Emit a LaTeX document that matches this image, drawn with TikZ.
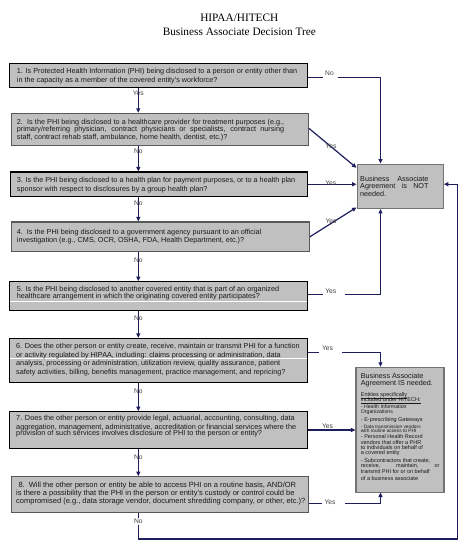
\documentclass[tikz,border=0pt]{standalone}
\usepackage{fontspec}
\setmainfont{Liberation Serif}
\newfontfamily\arialf{Liberation Sans}
\usetikzlibrary{arrows.meta}
\definecolor{boxgray}{HTML}{C0C0C0}
\definecolor{lineblue}{RGB}{30,30,95}
\tikzset{
  qbox/.style={draw=black, fill=boxgray, line width=1.1pt, inner sep=0pt},
  gbox/.style={qbox, draw=black!65},
  qtext/.style={anchor=north west, inner sep=0pt, align=left, text=black!90},
  conn/.style={draw=lineblue, line width=1.2pt},
  arr/.style={-{Triangle[length=4.5pt,width=4pt]}},
  lbl/.style={font=\arialf\fontsize{6.7}{6.7}\selectfont, text=black!75, inner sep=0pt},
  isl/.style={anchor=base west, inner sep=0pt, text=black!90},
  artifact/.style={draw=white, line width=0.8pt}
}
\begin{document}
\begin{tikzpicture}[x=1pt, y=-1pt]
\useasboundingbox (0,0) rectangle (465,546);
\fill[white] (0,0) rectangle (465,546);

% title
\node[font=\fontsize{11.3}{13}\selectfont] (title1) at (239.3,18.3) {HIPAA/HITECH};
\node[font=\fontsize{11.3}{13}\selectfont] (title2) at (239.3,31.9) {Business Associate Decision Tree};

% question boxes
\node[qbox, minimum width=298pt, minimum height=24pt] (q1) at (158.3,75.3) {};
\node[gbox, minimum width=296.6pt, minimum height=32pt] (q2) at (160,129.3) {};
\node[qbox, minimum width=297.3pt, minimum height=24.7pt] (q3) at (158.7,184.3) {};
\node[gbox, minimum width=297.6pt, minimum height=29.7pt] (q4) at (160.5,236.8) {};
\node[qbox, minimum width=297.8pt, minimum height=28.6pt] (q5) at (158.4,296) {};
\node[qbox, minimum width=297.8pt, minimum height=43.8pt] (q6) at (158.4,360.4) {};
\node[qbox, minimum width=297.8pt, minimum height=36.6pt] (q7) at (158.4,430) {};
\node[gbox, minimum width=296.6pt, minimum height=35.8pt] (q8) at (160,494.6) {};

% white streaks inside boxes 5 and 6
\draw[artifact] ([xshift=0.7pt,yshift=-5.7pt]q5.west) -- ([xshift=-0.7pt,yshift=-5.7pt]q5.east);
\draw[artifact] ([xshift=0.7pt,yshift=1.7pt]q6.west) -- ([xshift=-0.7pt,yshift=1.7pt]q6.east);

% result boxes
\node[gbox, draw=black!55, minimum width=86.3pt, minimum height=44.3pt] (notbox) at (400.2,186.2) {};
\node[gbox, draw=black!55, minimum width=88pt, minimum height=124.7pt] (isbox) at (400,429.7) {};

% question texts
\node[qtext, font=\arialf\fontsize{7.25}{9}\selectfont] (t1) at (16.7,68.3)
 {1. Is Protected Health Information (PHI) being disclosed to a person or entity other than\\
  in the capacity as a member of the covered entity’s workforce?};
\node[qtext, font=\arialf\fontsize{7.25}{7.5}\selectfont] (t2) at (16.7,119)
 {\makebox[267.3pt][s]{2.\ \ Is the PHI being disclosed to a healthcare provider for treatment purposes (e.g.,}\\
  \makebox[267.3pt][s]{primary/referring physician, contract physicians or specialists, contract nursing}\\
  staff, contract rehab staff, ambulance, home health, dentist, etc.)?};
\node[qtext, font=\arialf\fontsize{7.25}{8.7}\selectfont] (t3) at (16.7,177.3)
 {3. Is the PHI being disclosed to a health plan for payment purposes, or to a health plan\\
  sponsor with respect to disclosures by a group health plan?};
\node[qtext, font=\arialf\fontsize{7.25}{8.3}\selectfont] (t4) at (16.7,228.6)
 {4.\ \ Is the PHI being disclosed to a government agency pursuant to an official\\
  investigation (e.g., CMS, OCR, OSHA, FDA, Health Department, etc.)?};
\node[qtext, font=\arialf\fontsize{7.25}{7.7}\selectfont] (t5) at (16.7,285.6)
 {5. Is the PHI being disclosed to another covered entity that is part of an organized\\
  healthcare arrangement in which the originating covered entity participates?};
\node[qtext, font=\arialf\fontsize{7.25}{8.7}\selectfont] (t6) at (16,343)
 {6. Does the other person or entity create, receive, maintain or transmit PHI for a function\\
  or activity regulated by HIPAA, including: claims processing or administration, data\\
  analysis, processing or administration, utilization review, quality assurance, patient\\
  safety activities, billing, benefits management, practice management, and repricing?};
\node[qtext, font=\arialf\fontsize{7.3}{8.4}\selectfont] (t7) at (16,415.3)
 {7. Does the other person or entity provide legal, actuarial, accounting, consulting, data\\
  aggregation, management, administrative, accreditation or financial services where the\\[-2.3pt]
  provision of such services involves disclosure of PHI to the person or entity?};
\node[qtext, font=\arialf\fontsize{7.5}{7.85}\selectfont] (t8) at (16,482.2)
 {\hspace*{2.3pt}8.\ \ Will the other person or entity be able to access PHI on a routine basis, AND/OR\\
  is there a possibility that the PHI in the person or entity’s custody or control could be\\
  compromised (e.g., data storage vendor, document shredding company, or other, etc.)?};

% NOT needed text
\node[qtext, font=\arialf\fontsize{7.2}{7.5}\selectfont] (tnot) at (360,175.6)
 {\makebox[68.3pt][s]{Business Associate}\\
  \makebox[68.3pt][s]{Agreement is NOT}\\
  needed.};

% IS needed text
\node[isl, font=\arialf\fontsize{7.2}{7.2}\selectfont] (is1) at (360.7,378.4) {Business Associate};
\node[isl, font=\arialf\fontsize{7.2}{7.2}\selectfont] (is2) at (360.7,385.3) {Agreement IS needed.};
\node[isl, font=\arialf\fontsize{5.5}{5.5}\selectfont] (is3) at (360.7,396) {\underline{Entities specifically}};
\node[isl, font=\arialf\fontsize{5.5}{5.5}\selectfont] (is4) at (360.7,401.3) {\underline{included under HITECH:}};
\node[isl, font=\arialf\fontsize{5.2}{5.2}\selectfont] (is5) at (360.7,408.9) {- Health Information};
\node[isl, font=\arialf\fontsize{5.2}{5.2}\selectfont] (is6) at (360.7,413.4) {Organizations};
\node[isl, font=\arialf\fontsize{5.5}{5.5}\selectfont] (is7) at (360.7,421.3) {- E-prescribing Gateways};
\node[isl, font=\arialf\fontsize{4.8}{4.8}\selectfont] (is8) at (360.7,428.5) {- Data transmission vendors};
\node[isl, font=\arialf\fontsize{4.8}{4.8}\selectfont] (is9) at (360.7,432.5) {with routine access to PHI};
\node[isl, font=\arialf\fontsize{5.5}{5.5}\selectfont] (is10) at (360.7,438.5) {- Personal Health Record};
\node[isl, font=\arialf\fontsize{5.5}{5.5}\selectfont] (is11) at (360.7,444) {vendors that offer a PHR};
\node[isl, font=\arialf\fontsize{5.5}{5.5}\selectfont] (is12) at (360.7,449) {to individuals on behalf of};
\node[isl, font=\arialf\fontsize{5.5}{5.5}\selectfont] (is13) at (360.7,454.5) {a covered entity};
\node[isl, font=\arialf\fontsize{5.5}{5.5}\selectfont] (is14) at (360.7,462.3) {- Subcontractors that create,};
\node[isl, font=\arialf\fontsize{5.5}{5.5}\selectfont] (is15) at (360.7,467.5) {\makebox[78.6pt][s]{receive, maintain, or}};
\node[isl, font=\arialf\fontsize{5.5}{5.5}\selectfont] (is16) at (360.7,473.3) {transmit PHI for or on behalf};
\node[isl, font=\arialf\fontsize{5.5}{5.5}\selectfont] (is17) at (360.7,480) {of a business associate};

% helper coordinates
\coordinate (sp) at (138.3,0);
\coordinate (nx) at (380.5,0);
\coordinate (g1a) at (322.7,77.3);
\coordinate (g1b) at (337.7,77.3);
\coordinate (g5a) at (322.7,294.7);
\coordinate (g5b) at (345,294.7);
\coordinate (g6a) at (319,352.3);
\coordinate (g6b) at (342.3,352.3);
\coordinate (g8a) at (321.7,503.5);
\coordinate (g8b) at (345,503.5);
\coordinate (rb1) at (138.3,539);
\coordinate (rb2) at (457.5,539);

% spine
\draw[conn,arr] (q1.south -| sp) -- (q2.north -| sp);
\draw[conn,arr] (q2.south -| sp) -- (q3.north -| sp);
\draw[conn,arr] (q3.south -| sp) -- (q4.north -| sp);
\draw[conn,arr] (q4.south -| sp) -- (q5.north -| sp);
\draw[conn,arr] (q5.south -| sp) -- (q6.north -| sp);
\draw[conn,arr] (q6.south -| sp) -- (q7.north -| sp);
\draw[conn,arr] (q7.south -| sp) -- (q8.north -| sp);
\draw[conn,arr] (q8.south -| sp) -- (rb1) -- (rb2) |- ([yshift=2pt]notbox.east);

% right-side connectors
\draw[conn] (q1.east |- g1a) -- (g1a);
\draw[conn,arr] (g1b) -| (notbox.north -| nx);
\draw[conn,arr] ([yshift=1pt]q2.east) -- ([yshift=-4.3pt]notbox.north west);
\draw[conn,arr] (q3.east) -- (notbox.west |- q3.east);
\draw[conn,arr] (q4.east) -- ([yshift=1.5pt]notbox.south west);
\draw[conn] (q5.east |- g5a) -- (g5a);
\draw[conn,arr] (g5b) -| (notbox.south -| nx);
\draw[conn] (q6.east |- g6a) -- (g6a);
\draw[conn,arr] (g6b) -| (isbox.north -| nx);
\draw[conn,arr] (q7.east) -- (isbox.west |- q7.east);
\draw[conn] (q8.east |- g8a) -- (g8a);
\draw[conn,arr] (g8b) -| (isbox.south -| nx);

% labels
\node[lbl] (l12) at (138.3,93.3) {Yes};
\node[lbl] (l23) at (138.3,151.7) {No};
\node[lbl] (l34) at (138.3,203) {No};
\node[lbl] (l45) at (138.3,260) {No};
\node[lbl] (l56) at (138.3,318.3) {No};
\node[lbl] (l67) at (138.3,391.7) {No};
\node[lbl] (l78) at (138.3,457) {No};
\node[lbl, fill=white, inner sep=1pt] (l8b) at (138.3,521.3) {No};
\node[lbl] (r1) at (329.5,73.7) {No};
\node[lbl] (r2) at (331,146.7) {Yes};
\node[lbl] (r3) at (330.8,183.7) {Yes};
\node[lbl] (r4) at (331,221.7) {Yes};
\node[lbl] (r5) at (330.8,291.7) {Yes};
\node[lbl] (r6) at (327.5,348.3) {Yes};
\node[lbl] (r7) at (327.5,426.7) {Yes};
\node[lbl] (r8) at (330,502.7) {Yes};
\end{tikzpicture}
\end{document}
